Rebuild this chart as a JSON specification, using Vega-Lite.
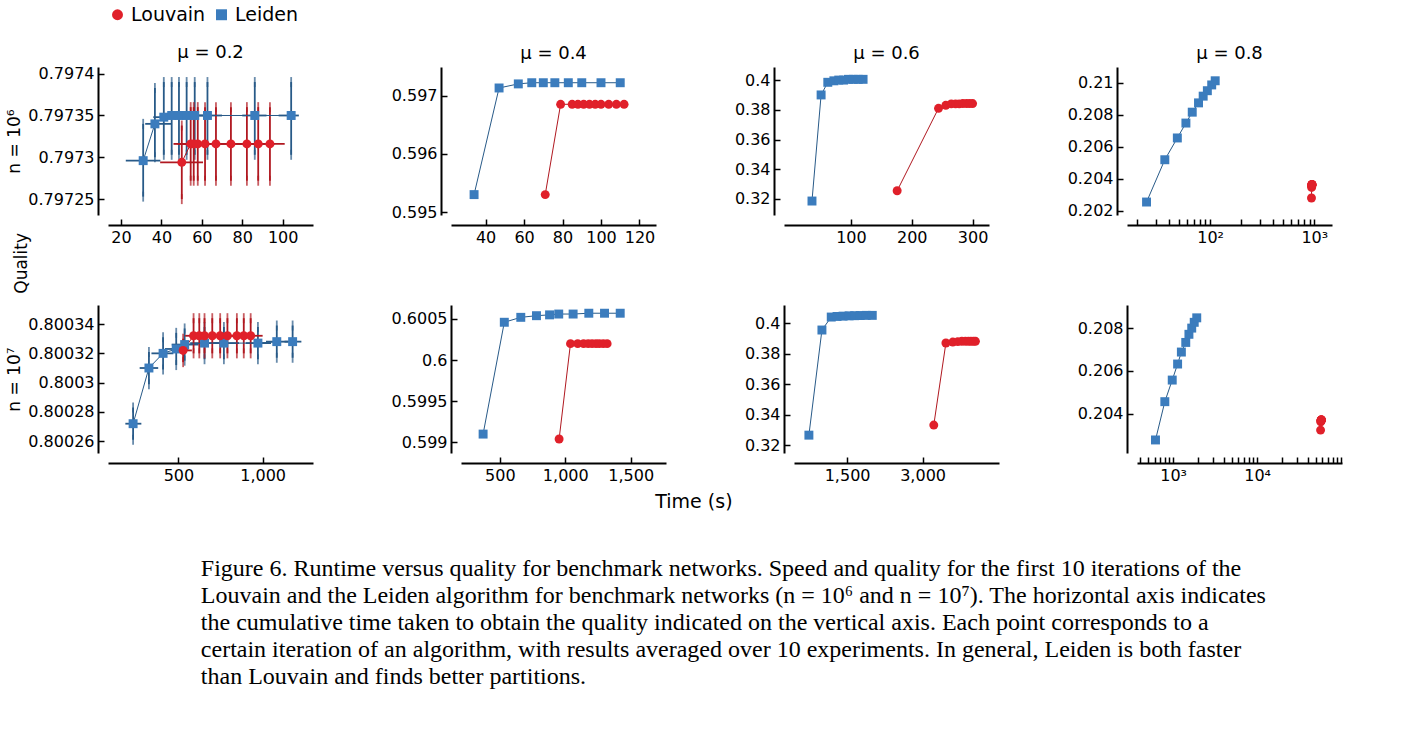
{
  "$schema": "https://vega.github.io/schema/vega-lite/v6.json",
  "background": "white",
  "config": {
    "view": {"stroke": null},
    "font": "DejaVu Sans",
    "axis": {"grid": false, "domainColor": "black", "domainWidth": 2, "tickColor": "black", "tickWidth": 1.5, "tickSize": -6, "labelFontSize": 16, "labelColor": "black", "labelPadding": 10, "offset": 10, "titleFontSize": 17, "titleFontWeight": "normal", "titleColor": "black"},
    "title": {"fontSize": 18, "fontWeight": "normal", "color": "black"},
    "legend": {"labelFontSize": 19, "orient": "top", "direction": "horizontal", "symbolSize": 120, "columnPadding": 6, "labelColor": "black"}
  },
  "datasets": {
    "p1": [
      {"alg": "Leiden", "x": 31, "y": 0.797296, "xlo": 22.4, "xhi": 39.5, "ylo": 0.797253, "yhi": 0.79734},
      {"alg": "Leiden", "x": 36.8, "y": 0.79734, "xlo": 32, "xhi": 45, "ylo": 0.7973, "yhi": 0.797383},
      {"alg": "Leiden", "x": 41.2, "y": 0.797348, "xlo": 36, "xhi": 47, "ylo": 0.797303, "yhi": 0.79739},
      {"alg": "Leiden", "x": 45.1, "y": 0.79735, "xlo": 40, "xhi": 51, "ylo": 0.797303, "yhi": 0.79739},
      {"alg": "Leiden", "x": 48.7, "y": 0.79735, "xlo": 43, "xhi": 55, "ylo": 0.797303, "yhi": 0.79739},
      {"alg": "Leiden", "x": 52.5, "y": 0.79735, "xlo": 47, "xhi": 58, "ylo": 0.797303, "yhi": 0.79739},
      {"alg": "Leiden", "x": 56.5, "y": 0.79735, "xlo": 50, "xhi": 63, "ylo": 0.797303, "yhi": 0.79739},
      {"alg": "Leiden", "x": 62.8, "y": 0.79735, "xlo": 55, "xhi": 70, "ylo": 0.797303, "yhi": 0.79739},
      {"alg": "Leiden", "x": 86.2, "y": 0.79735, "xlo": 80, "xhi": 92, "ylo": 0.797303, "yhi": 0.79739},
      {"alg": "Leiden", "x": 104.2, "y": 0.79735, "xlo": 98, "xhi": 108, "ylo": 0.797303, "yhi": 0.79739},
      {"alg": "Louvain", "x": 50.1, "y": 0.797294, "xlo": 39.4, "xhi": 60.6, "ylo": 0.79725, "yhi": 0.797338},
      {"alg": "Louvain", "x": 54.5, "y": 0.797316, "xlo": 46, "xhi": 60, "ylo": 0.797272, "yhi": 0.79736},
      {"alg": "Louvain", "x": 56, "y": 0.797316, "xlo": 48, "xhi": 62, "ylo": 0.797272, "yhi": 0.79736},
      {"alg": "Louvain", "x": 58, "y": 0.797316, "xlo": 50, "xhi": 64, "ylo": 0.797272, "yhi": 0.79736},
      {"alg": "Louvain", "x": 61.6, "y": 0.797316, "xlo": 53, "xhi": 68, "ylo": 0.797272, "yhi": 0.79736},
      {"alg": "Louvain", "x": 67, "y": 0.797316, "xlo": 58, "xhi": 74, "ylo": 0.797272, "yhi": 0.79736},
      {"alg": "Louvain", "x": 74.4, "y": 0.797316, "xlo": 65, "xhi": 82, "ylo": 0.797272, "yhi": 0.79736},
      {"alg": "Louvain", "x": 82.3, "y": 0.797316, "xlo": 73, "xhi": 90, "ylo": 0.797272, "yhi": 0.79736},
      {"alg": "Louvain", "x": 87.9, "y": 0.797316, "xlo": 79, "xhi": 96, "ylo": 0.797272, "yhi": 0.79736},
      {"alg": "Louvain", "x": 93.7, "y": 0.797316, "xlo": 85, "xhi": 101, "ylo": 0.797272, "yhi": 0.79736}
    ],
    "p2": [
      {"alg": "Leiden", "x": 34, "y": 0.5953}, {"alg": "Leiden", "x": 47, "y": 0.59713},
      {"alg": "Leiden", "x": 57, "y": 0.5972}, {"alg": "Leiden", "x": 64, "y": 0.59722},
      {"alg": "Leiden", "x": 70, "y": 0.59722}, {"alg": "Leiden", "x": 76, "y": 0.59722},
      {"alg": "Leiden", "x": 83, "y": 0.59722}, {"alg": "Leiden", "x": 90, "y": 0.59722},
      {"alg": "Leiden", "x": 100, "y": 0.59722}, {"alg": "Leiden", "x": 110, "y": 0.59722},
      {"alg": "Louvain", "x": 71, "y": 0.5953}, {"alg": "Louvain", "x": 79, "y": 0.59685},
      {"alg": "Louvain", "x": 85, "y": 0.59685}, {"alg": "Louvain", "x": 88, "y": 0.59685},
      {"alg": "Louvain", "x": 91, "y": 0.59685}, {"alg": "Louvain", "x": 94, "y": 0.59685},
      {"alg": "Louvain", "x": 97, "y": 0.59685}, {"alg": "Louvain", "x": 100, "y": 0.59685},
      {"alg": "Louvain", "x": 104, "y": 0.59685}, {"alg": "Louvain", "x": 108, "y": 0.59685},
      {"alg": "Louvain", "x": 112, "y": 0.59685}
    ],
    "p3": [
      {"alg": "Leiden", "x": 36, "y": 0.3186}, {"alg": "Leiden", "x": 51, "y": 0.39},
      {"alg": "Leiden", "x": 62, "y": 0.3985}, {"alg": "Leiden", "x": 72, "y": 0.3995},
      {"alg": "Leiden", "x": 80, "y": 0.4}, {"alg": "Leiden", "x": 88, "y": 0.4},
      {"alg": "Leiden", "x": 96, "y": 0.4005}, {"alg": "Leiden", "x": 104, "y": 0.4005},
      {"alg": "Leiden", "x": 112, "y": 0.4005}, {"alg": "Leiden", "x": 120, "y": 0.4005},
      {"alg": "Louvain", "x": 176, "y": 0.3255}, {"alg": "Louvain", "x": 244, "y": 0.381},
      {"alg": "Louvain", "x": 256, "y": 0.383}, {"alg": "Louvain", "x": 265, "y": 0.384},
      {"alg": "Louvain", "x": 272, "y": 0.384}, {"alg": "Louvain", "x": 278, "y": 0.384},
      {"alg": "Louvain", "x": 284, "y": 0.3842}, {"alg": "Louvain", "x": 290, "y": 0.3842},
      {"alg": "Louvain", "x": 295, "y": 0.3842}, {"alg": "Louvain", "x": 300, "y": 0.3842}
    ],
    "p4": [
      {"alg": "Leiden", "x": 24.5, "y": 0.20254}, {"alg": "Leiden", "x": 36.7, "y": 0.20518},
      {"alg": "Leiden", "x": 48.4, "y": 0.20654}, {"alg": "Leiden", "x": 58.5, "y": 0.20747},
      {"alg": "Leiden", "x": 67.3, "y": 0.20815}, {"alg": "Leiden", "x": 77.3, "y": 0.20873},
      {"alg": "Leiden", "x": 85.7, "y": 0.20915}, {"alg": "Leiden", "x": 94, "y": 0.20949},
      {"alg": "Leiden", "x": 103.5, "y": 0.20985}, {"alg": "Leiden", "x": 111.8, "y": 0.21011},
      {"alg": "Louvain", "x": 940, "y": 0.20279}, {"alg": "Louvain", "x": 943, "y": 0.20345},
      {"alg": "Louvain", "x": 945, "y": 0.20355}, {"alg": "Louvain", "x": 946, "y": 0.20358},
      {"alg": "Louvain", "x": 947, "y": 0.2036}, {"alg": "Louvain", "x": 948, "y": 0.20361},
      {"alg": "Louvain", "x": 949, "y": 0.20362}, {"alg": "Louvain", "x": 950, "y": 0.20362},
      {"alg": "Louvain", "x": 951, "y": 0.20363}, {"alg": "Louvain", "x": 952, "y": 0.20364}
    ],
    "p5": [
      {"alg": "Leiden", "x": 231, "y": 0.800272, "xlo": 185, "xhi": 280, "ylo": 0.800261, "yhi": 0.800283},
      {"alg": "Leiden", "x": 325, "y": 0.80031, "xlo": 270, "xhi": 380, "ylo": 0.800299, "yhi": 0.800321},
      {"alg": "Leiden", "x": 409, "y": 0.80032, "xlo": 340, "xhi": 470, "ylo": 0.800309, "yhi": 0.800331},
      {"alg": "Leiden", "x": 487, "y": 0.800323, "xlo": 420, "xhi": 560, "ylo": 0.800312, "yhi": 0.800334},
      {"alg": "Leiden", "x": 537, "y": 0.800326, "xlo": 460, "xhi": 620, "ylo": 0.800315, "yhi": 0.800337},
      {"alg": "Leiden", "x": 655, "y": 0.800327, "xlo": 570, "xhi": 740, "ylo": 0.800316, "yhi": 0.800338},
      {"alg": "Leiden", "x": 770, "y": 0.800327, "xlo": 690, "xhi": 860, "ylo": 0.800316, "yhi": 0.800338},
      {"alg": "Leiden", "x": 972, "y": 0.800327, "xlo": 900, "xhi": 1050, "ylo": 0.800316, "yhi": 0.800338},
      {"alg": "Leiden", "x": 1084, "y": 0.800328, "xlo": 1020, "xhi": 1150, "ylo": 0.800317, "yhi": 0.800339},
      {"alg": "Leiden", "x": 1178, "y": 0.800328, "xlo": 1130, "xhi": 1230, "ylo": 0.800317, "yhi": 0.800339},
      {"alg": "Louvain", "x": 528, "y": 0.800322, "xlo": 480, "xhi": 580, "ylo": 0.800314, "yhi": 0.80033},
      {"alg": "Louvain", "x": 590, "y": 0.800332, "xlo": 540, "xhi": 640, "ylo": 0.80032, "yhi": 0.800344},
      {"alg": "Louvain", "x": 624, "y": 0.800332, "xlo": 575, "xhi": 675, "ylo": 0.80032, "yhi": 0.800344},
      {"alg": "Louvain", "x": 655, "y": 0.800332, "xlo": 605, "xhi": 705, "ylo": 0.80032, "yhi": 0.800344},
      {"alg": "Louvain", "x": 701, "y": 0.800332, "xlo": 650, "xhi": 750, "ylo": 0.80032, "yhi": 0.800344},
      {"alg": "Louvain", "x": 748, "y": 0.800332, "xlo": 700, "xhi": 800, "ylo": 0.80032, "yhi": 0.800344},
      {"alg": "Louvain", "x": 791, "y": 0.800332, "xlo": 740, "xhi": 840, "ylo": 0.80032, "yhi": 0.800344},
      {"alg": "Louvain", "x": 847, "y": 0.800332, "xlo": 800, "xhi": 900, "ylo": 0.80032, "yhi": 0.800344},
      {"alg": "Louvain", "x": 888, "y": 0.800332, "xlo": 840, "xhi": 940, "ylo": 0.80032, "yhi": 0.800344},
      {"alg": "Louvain", "x": 929, "y": 0.800332, "xlo": 880, "xhi": 1000, "ylo": 0.80032, "yhi": 0.800344}
    ],
    "p6": [
      {"alg": "Leiden", "x": 372, "y": 0.5991}, {"alg": "Leiden", "x": 534, "y": 0.60046},
      {"alg": "Leiden", "x": 660, "y": 0.60052}, {"alg": "Leiden", "x": 780, "y": 0.60054},
      {"alg": "Leiden", "x": 880, "y": 0.60055}, {"alg": "Leiden", "x": 950, "y": 0.60056},
      {"alg": "Leiden", "x": 1060, "y": 0.60056}, {"alg": "Leiden", "x": 1180, "y": 0.60057},
      {"alg": "Leiden", "x": 1300, "y": 0.60057}, {"alg": "Leiden", "x": 1420, "y": 0.60057},
      {"alg": "Louvain", "x": 953, "y": 0.59904}, {"alg": "Louvain", "x": 1040, "y": 0.6002},
      {"alg": "Louvain", "x": 1095, "y": 0.6002}, {"alg": "Louvain", "x": 1140, "y": 0.6002},
      {"alg": "Louvain", "x": 1175, "y": 0.6002}, {"alg": "Louvain", "x": 1205, "y": 0.6002},
      {"alg": "Louvain", "x": 1235, "y": 0.6002}, {"alg": "Louvain", "x": 1260, "y": 0.6002},
      {"alg": "Louvain", "x": 1290, "y": 0.6002}, {"alg": "Louvain", "x": 1320, "y": 0.6002}
    ],
    "p7": [
      {"alg": "Leiden", "x": 741, "y": 0.3265}, {"alg": "Leiden", "x": 1000, "y": 0.3954},
      {"alg": "Leiden", "x": 1185, "y": 0.4039}, {"alg": "Leiden", "x": 1300, "y": 0.4043},
      {"alg": "Leiden", "x": 1420, "y": 0.4045}, {"alg": "Leiden", "x": 1540, "y": 0.4047},
      {"alg": "Leiden", "x": 1650, "y": 0.4048}, {"alg": "Leiden", "x": 1760, "y": 0.4049},
      {"alg": "Leiden", "x": 1880, "y": 0.405}, {"alg": "Leiden", "x": 2000, "y": 0.405},
      {"alg": "Louvain", "x": 3222, "y": 0.3331}, {"alg": "Louvain", "x": 3463, "y": 0.3869},
      {"alg": "Louvain", "x": 3600, "y": 0.3875}, {"alg": "Louvain", "x": 3700, "y": 0.3878},
      {"alg": "Louvain", "x": 3780, "y": 0.388}, {"alg": "Louvain", "x": 3850, "y": 0.388},
      {"alg": "Louvain", "x": 3910, "y": 0.388}, {"alg": "Louvain", "x": 3960, "y": 0.388},
      {"alg": "Louvain", "x": 4010, "y": 0.388}, {"alg": "Louvain", "x": 4050, "y": 0.388}
    ],
    "p8": [
      {"alg": "Leiden", "x": 616, "y": 0.20277}, {"alg": "Leiden", "x": 796, "y": 0.20456},
      {"alg": "Leiden", "x": 975, "y": 0.20557}, {"alg": "Leiden", "x": 1130, "y": 0.20632},
      {"alg": "Leiden", "x": 1253, "y": 0.20688}, {"alg": "Leiden", "x": 1413, "y": 0.20733},
      {"alg": "Leiden", "x": 1541, "y": 0.20771}, {"alg": "Leiden", "x": 1664, "y": 0.208},
      {"alg": "Leiden", "x": 1782, "y": 0.20827}, {"alg": "Leiden", "x": 1910, "y": 0.20848},
      {"alg": "Louvain", "x": 57000, "y": 0.20323}, {"alg": "Louvain", "x": 57300, "y": 0.20362},
      {"alg": "Louvain", "x": 57500, "y": 0.20366}, {"alg": "Louvain", "x": 57700, "y": 0.20368},
      {"alg": "Louvain", "x": 57900, "y": 0.20369}, {"alg": "Louvain", "x": 58000, "y": 0.2037},
      {"alg": "Louvain", "x": 58100, "y": 0.2037}, {"alg": "Louvain", "x": 58200, "y": 0.20371},
      {"alg": "Louvain", "x": 58300, "y": 0.20371}, {"alg": "Louvain", "x": 58400, "y": 0.20371}
    ]
  },
  "title": {
    "text": [
      "Figure 6.  Runtime versus quality for benchmark networks. Speed and quality for the first 10 iterations of the",
      "Louvain and the Leiden algorithm for benchmark networks (n = 10⁶ and n = 10⁷). The horizontal axis indicates",
      "the cumulative time taken to obtain the quality indicated on the vertical axis. Each point corresponds to a",
      "certain iteration of an algorithm, with results averaged over 10 experiments. In general, Leiden is both faster",
      "than Louvain and finds better partitions."
    ],
    "orient": "bottom", "anchor": "start", "font": "Liberation Serif", "fontSize": 24, "lineHeight": 27, "offset": 45, "dx": 195
  },
  "resolve": {"legend": {"fill": "shared", "shape": "shared"}},
  "vconcat": [{
    "title": {"text": "Time (s)", "orient": "bottom", "anchor": "middle", "fontSize": 19, "offset": 10, "dx": 20},
    "vconcat": [{
      "title": {"text": "Quality", "orient": "left", "anchor": "middle", "fontSize": 17, "offset": -25},
      "spacing": 60,
      "vconcat": [
        {"spacing": 78, "hconcat": [
          {"width": 205, "height": 148, "title": "μ = 0.2", "data": {"name": "p1"},
           "encoding": {
             "x": {"field": "x", "type": "quantitative", "title": null, "scale": {"domain": [13.6, 115], "nice": false, "zero": false}, "axis": {"values": [20, 40, 60, 80, 100]}},
             "y": {"field": "y", "type": "quantitative", "title": "n = 10⁶", "scale": {"domain": [0.797231, 0.797408], "nice": false, "zero": false}, "axis": {"values": [0.79725, 0.7973, 0.79735, 0.7974], "format": ".5~f"}}
           },
           "layer": [
             {"transform": [{"filter": "datum.alg == 'Leiden'"}], "mark": {"type": "rule", "strokeWidth": 1.8, "color": "#285a88"}, "encoding": {"x": {"field": "xlo", "type": "quantitative"}, "x2": {"field": "xhi"}}},
             {"transform": [{"filter": "datum.alg == 'Leiden'"}], "mark": {"type": "rule", "strokeWidth": 1.8, "color": "#285a88"}, "encoding": {"y": {"field": "ylo", "type": "quantitative"}, "y2": {"field": "yhi"}}},
             {"transform": [{"filter": "datum.alg == 'Leiden'"}], "mark": {"type": "tick", "orient": "vertical", "thickness": 1.8, "size": 10, "color": "#285a88"}, "encoding": {"y": {"field": "ylo", "type": "quantitative"}}},
             {"transform": [{"filter": "datum.alg == 'Leiden'"}], "mark": {"type": "tick", "orient": "vertical", "thickness": 1.8, "size": 10, "color": "#285a88"}, "encoding": {"y": {"field": "yhi", "type": "quantitative"}}},
             {"transform": [{"filter": "datum.alg == 'Louvain'"}], "mark": {"type": "rule", "strokeWidth": 1.8, "color": "#b01820"}, "encoding": {"x": {"field": "xlo", "type": "quantitative"}, "x2": {"field": "xhi"}}},
             {"transform": [{"filter": "datum.alg == 'Louvain'"}], "mark": {"type": "rule", "strokeWidth": 1.8, "color": "#b01820"}, "encoding": {"y": {"field": "ylo", "type": "quantitative"}, "y2": {"field": "yhi"}}},
             {"transform": [{"filter": "datum.alg == 'Louvain'"}], "mark": {"type": "tick", "orient": "vertical", "thickness": 1.8, "size": 10, "color": "#b01820"}, "encoding": {"y": {"field": "ylo", "type": "quantitative"}}},
             {"transform": [{"filter": "datum.alg == 'Louvain'"}], "mark": {"type": "tick", "orient": "vertical", "thickness": 1.8, "size": 10, "color": "#b01820"}, "encoding": {"y": {"field": "yhi", "type": "quantitative"}}},
             {"transform": [{"filter": "datum.alg == 'Leiden'"}], "mark": {"type": "line", "strokeWidth": 1, "color": "#285a88"}, "encoding": {}},
             {"transform": [{"filter": "datum.alg == 'Louvain'"}], "mark": {"type": "line", "strokeWidth": 1, "color": "#b01820"}, "encoding": {}},
             {"mark": {"type": "point", "filled": true, "opacity": 1, "size": 80}, "encoding": {"fill": {"field": "alg", "type": "nominal", "scale": {"domain": ["Louvain", "Leiden"], "range": ["#e0202a", "#3b7cbd"]}, "legend": {"title": null}}, "shape": {"field": "alg", "type": "nominal", "scale": {"domain": ["Louvain", "Leiden"], "range": ["circle", "square"]}, "legend": {"title": null}}}}
           ]},
          {"width": 205, "height": 148, "title": "μ = 0.4", "data": {"name": "p2"},
           "encoding": {
             "x": {"field": "x", "type": "quantitative", "title": null, "scale": {"domain": [22, 128.6], "nice": false, "zero": false}, "axis": {"values": [40, 60, 80, 100, 120]}},
             "y": {"field": "y", "type": "quantitative", "title": null, "scale": {"domain": [0.59495, 0.59749], "nice": false, "zero": false}, "axis": {"values": [0.595, 0.596, 0.597], "format": ".3~f"}}
           },
           "layer": [
             {"transform": [{"filter": "datum.alg == 'Leiden'"}], "mark": {"type": "line", "strokeWidth": 1, "color": "#285a88"}, "encoding": {}},
             {"transform": [{"filter": "datum.alg == 'Louvain'"}], "mark": {"type": "line", "strokeWidth": 1, "color": "#b01820"}, "encoding": {}},
             {"mark": {"type": "point", "filled": true, "opacity": 1, "size": 80}, "encoding": {"fill": {"field": "alg", "type": "nominal", "legend": {"title": null}}, "shape": {"field": "alg", "type": "nominal", "legend": {"title": null}}}}
           ]},
          {"width": 205, "height": 148, "title": "μ = 0.6", "data": {"name": "p3"},
           "encoding": {
             "x": {"field": "x", "type": "quantitative", "title": null, "scale": {"domain": [-10, 327], "nice": false, "zero": false}, "axis": {"values": [100, 200, 300]}},
             "y": {"field": "y", "type": "quantitative", "title": null, "scale": {"domain": [0.3092, 0.4088], "nice": false, "zero": false}, "axis": {"values": [0.32, 0.34, 0.36, 0.38, 0.4], "format": ".2~f"}}
           },
           "layer": [
             {"transform": [{"filter": "datum.alg == 'Leiden'"}], "mark": {"type": "line", "strokeWidth": 1, "color": "#285a88"}, "encoding": {}},
             {"transform": [{"filter": "datum.alg == 'Louvain'"}], "mark": {"type": "line", "strokeWidth": 1, "color": "#b01820"}, "encoding": {}},
             {"mark": {"type": "point", "filled": true, "opacity": 1, "size": 80}, "encoding": {"fill": {"field": "alg", "type": "nominal", "legend": {"title": null}}, "shape": {"field": "alg", "type": "nominal", "legend": {"title": null}}}}
           ]},
          {"width": 205, "height": 148, "title": "μ = 0.8", "data": {"name": "p4"},
           "encoding": {
             "x": {"field": "x", "type": "quantitative", "title": null, "scale": {"type": "log", "domain": [15.9, 1480], "nice": false}, "axis": {"values": [20, 30, 40, 50, 60, 70, 80, 90, 100, 200, 300, 400, 500, 600, 700, 800, 900, 1000], "labelExpr": "datum.value == 100 ? '10²' : datum.value == 1000 ? '10³' : ''"}},
             "y": {"field": "y", "type": "quantitative", "title": null, "scale": {"domain": [0.20173, 0.21097], "nice": false, "zero": false}, "axis": {"values": [0.202, 0.204, 0.206, 0.208, 0.21], "format": ".3~f"}}
           },
           "layer": [
             {"transform": [{"filter": "datum.alg == 'Leiden'"}], "mark": {"type": "line", "strokeWidth": 1, "color": "#285a88"}, "encoding": {}},
             {"transform": [{"filter": "datum.alg == 'Louvain'"}], "mark": {"type": "line", "strokeWidth": 1, "color": "#b01820"}, "encoding": {}},
             {"mark": {"type": "point", "filled": true, "opacity": 1, "size": 80}, "encoding": {"fill": {"field": "alg", "type": "nominal", "legend": {"title": null}}, "shape": {"field": "alg", "type": "nominal", "legend": {"title": null}}}}
           ]}
        ]},
        {"spacing": 78, "hconcat": [
          {"width": 205, "height": 148, "data": {"name": "p5"},
           "encoding": {
             "x": {"field": "x", "type": "quantitative", "title": null, "scale": {"domain": [82, 1299], "nice": false, "zero": false}, "axis": {"values": [500, 1000], "format": ",d"}},
             "y": {"field": "y", "type": "quantitative", "title": "n = 10⁷", "scale": {"domain": [0.800252, 0.800353], "nice": false, "zero": false}, "axis": {"values": [0.80026, 0.80028, 0.8003, 0.80032, 0.80034], "format": ".5~f"}}
           },
           "layer": [
             {"transform": [{"filter": "datum.alg == 'Leiden'"}], "mark": {"type": "rule", "strokeWidth": 1.8, "color": "#285a88"}, "encoding": {"x": {"field": "xlo", "type": "quantitative"}, "x2": {"field": "xhi"}}},
             {"transform": [{"filter": "datum.alg == 'Leiden'"}], "mark": {"type": "rule", "strokeWidth": 1.8, "color": "#285a88"}, "encoding": {"y": {"field": "ylo", "type": "quantitative"}, "y2": {"field": "yhi"}}},
             {"transform": [{"filter": "datum.alg == 'Leiden'"}], "mark": {"type": "tick", "orient": "vertical", "thickness": 1.8, "size": 10, "color": "#285a88"}, "encoding": {"y": {"field": "ylo", "type": "quantitative"}}},
             {"transform": [{"filter": "datum.alg == 'Leiden'"}], "mark": {"type": "tick", "orient": "vertical", "thickness": 1.8, "size": 10, "color": "#285a88"}, "encoding": {"y": {"field": "yhi", "type": "quantitative"}}},
             {"transform": [{"filter": "datum.alg == 'Louvain'"}], "mark": {"type": "rule", "strokeWidth": 1.8, "color": "#b01820"}, "encoding": {"x": {"field": "xlo", "type": "quantitative"}, "x2": {"field": "xhi"}}},
             {"transform": [{"filter": "datum.alg == 'Louvain'"}], "mark": {"type": "rule", "strokeWidth": 1.8, "color": "#b01820"}, "encoding": {"y": {"field": "ylo", "type": "quantitative"}, "y2": {"field": "yhi"}}},
             {"transform": [{"filter": "datum.alg == 'Louvain'"}], "mark": {"type": "tick", "orient": "vertical", "thickness": 1.8, "size": 10, "color": "#b01820"}, "encoding": {"y": {"field": "ylo", "type": "quantitative"}}},
             {"transform": [{"filter": "datum.alg == 'Louvain'"}], "mark": {"type": "tick", "orient": "vertical", "thickness": 1.8, "size": 10, "color": "#b01820"}, "encoding": {"y": {"field": "yhi", "type": "quantitative"}}},
             {"transform": [{"filter": "datum.alg == 'Leiden'"}], "mark": {"type": "line", "strokeWidth": 1, "color": "#285a88"}, "encoding": {}},
             {"transform": [{"filter": "datum.alg == 'Louvain'"}], "mark": {"type": "line", "strokeWidth": 1, "color": "#b01820"}, "encoding": {}},
             {"mark": {"type": "point", "filled": true, "opacity": 1, "size": 80}, "encoding": {"fill": {"field": "alg", "type": "nominal", "legend": {"title": null}}, "shape": {"field": "alg", "type": "nominal", "legend": {"title": null}}}}
           ]},
          {"width": 205, "height": 148, "data": {"name": "p6"},
           "encoding": {
             "x": {"field": "x", "type": "quantitative", "title": null, "scale": {"domain": [203, 1770], "nice": false, "zero": false}, "axis": {"values": [500, 1000, 1500], "format": ",d"}},
             "y": {"field": "y", "type": "quantitative", "title": null, "scale": {"domain": [0.59887, 0.60067], "nice": false, "zero": false}, "axis": {"values": [0.599, 0.5995, 0.6, 0.6005], "format": ".4~f"}}
           },
           "layer": [
             {"transform": [{"filter": "datum.alg == 'Leiden'"}], "mark": {"type": "line", "strokeWidth": 1, "color": "#285a88"}, "encoding": {}},
             {"transform": [{"filter": "datum.alg == 'Louvain'"}], "mark": {"type": "line", "strokeWidth": 1, "color": "#b01820"}, "encoding": {}},
             {"mark": {"type": "point", "filled": true, "opacity": 1, "size": 80}, "encoding": {"fill": {"field": "alg", "type": "nominal", "legend": {"title": null}}, "shape": {"field": "alg", "type": "nominal", "legend": {"title": null}}}}
           ]},
          {"width": 205, "height": 148, "data": {"name": "p7"},
           "encoding": {
             "x": {"field": "x", "type": "quantitative", "title": null, "scale": {"domain": [445, 4518], "nice": false, "zero": false}, "axis": {"values": [1500, 3000], "format": ",d"}},
             "y": {"field": "y", "type": "quantitative", "title": null, "scale": {"domain": [0.3148, 0.4118], "nice": false, "zero": false}, "axis": {"values": [0.32, 0.34, 0.36, 0.38, 0.4], "format": ".2~f"}}
           },
           "layer": [
             {"transform": [{"filter": "datum.alg == 'Leiden'"}], "mark": {"type": "line", "strokeWidth": 1, "color": "#285a88"}, "encoding": {}},
             {"transform": [{"filter": "datum.alg == 'Louvain'"}], "mark": {"type": "line", "strokeWidth": 1, "color": "#b01820"}, "encoding": {}},
             {"mark": {"type": "point", "filled": true, "opacity": 1, "size": 80}, "encoding": {"fill": {"field": "alg", "type": "nominal", "legend": {"title": null}}, "shape": {"field": "alg", "type": "nominal", "legend": {"title": null}}}}
           ]},
          {"width": 205, "height": 148, "data": {"name": "p8"},
           "encoding": {
             "x": {"field": "x", "type": "quantitative", "title": null, "scale": {"type": "log", "domain": [371, 102600], "nice": false}, "axis": {"values": [400, 500, 600, 700, 800, 900, 1000, 2000, 3000, 4000, 5000, 6000, 7000, 8000, 9000, 10000, 20000, 30000, 40000, 50000, 60000, 70000, 80000, 90000, 100000], "labelExpr": "datum.value == 1000 ? '10³' : datum.value == 10000 ? '10⁴' : ''"}},
             "y": {"field": "y", "type": "quantitative", "title": null, "scale": {"domain": [0.20216, 0.20908], "nice": false, "zero": false}, "axis": {"values": [0.204, 0.206, 0.208], "format": ".3~f"}}
           },
           "layer": [
             {"transform": [{"filter": "datum.alg == 'Leiden'"}], "mark": {"type": "line", "strokeWidth": 1, "color": "#285a88"}, "encoding": {}},
             {"transform": [{"filter": "datum.alg == 'Louvain'"}], "mark": {"type": "line", "strokeWidth": 1, "color": "#b01820"}, "encoding": {}},
             {"mark": {"type": "point", "filled": true, "opacity": 1, "size": 80}, "encoding": {"fill": {"field": "alg", "type": "nominal", "legend": {"title": null}}, "shape": {"field": "alg", "type": "nominal", "legend": {"title": null}}}}
           ]}
        ]}
      ]
    }]
  }]
}
